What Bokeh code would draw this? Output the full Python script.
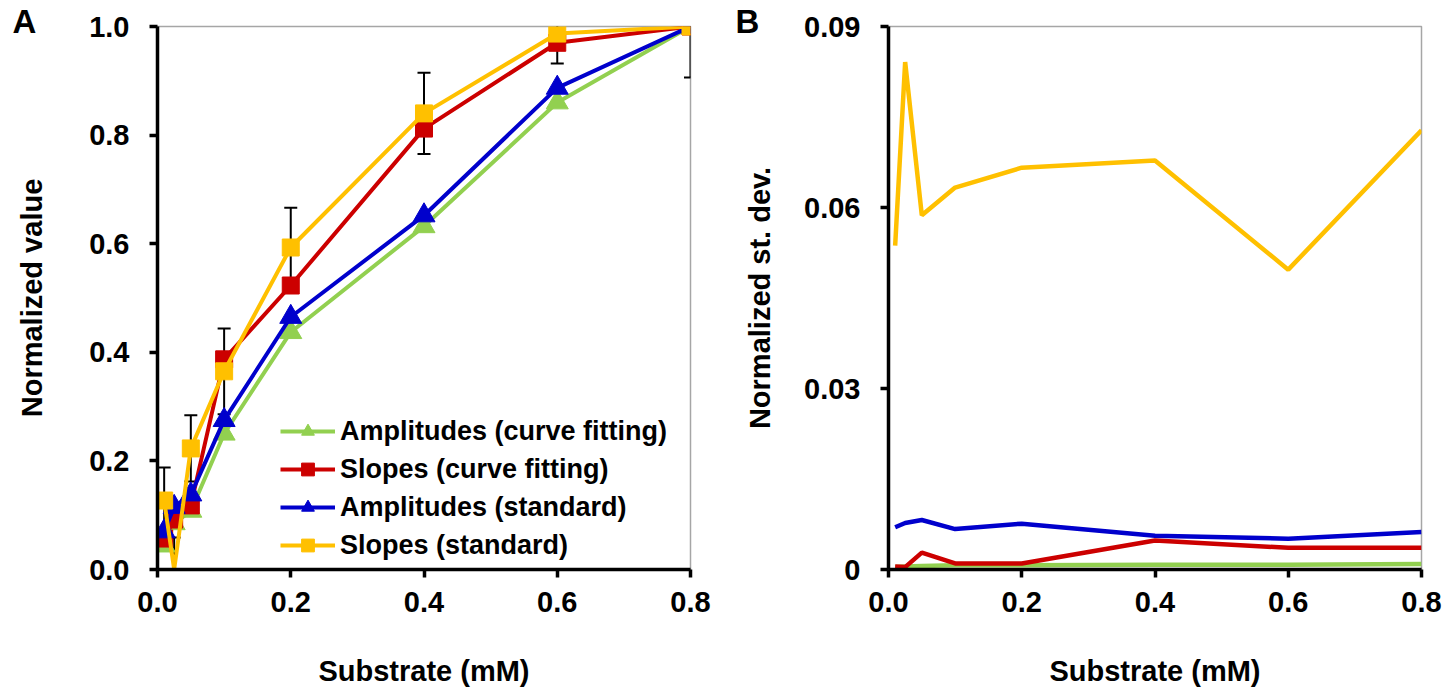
import numpy as np
from bokeh.plotting import figure
from bokeh.layouts import row
from bokeh.models import (Range1d, FixedTicker, NumeralTickFormatter, Legend,
                          LegendItem, ColumnDataSource, Title)
from bokeh.embed import file_html
from bokeh.resources import INLINE

# ---------------- data ----------------
substrate = [0.01, 0.025, 0.05, 0.1, 0.2, 0.4, 0.6, 0.8]

# Panel A: normalized values
amp_curve = [0.044, 0.085, 0.108, 0.25, 0.437, 0.632, 0.86, 1.0]
slope_curve = [0.057, 0.092, 0.118, 0.387, 0.523, 0.812, 0.97, 1.0]
amp_std = [0.070, 0.115, 0.138, 0.275, 0.465, 0.652, 0.887, 1.0]
slope_std = [0.127, 0.0, 0.223, 0.365, 0.593, 0.84, 0.987, 1.0]
slope_std_err = [0.061, 0.059, 0.061, 0.079, 0.073, 0.075, 0.055, 0.094]

# Panel B: normalized standard deviations
sd_amp_curve = [0.0004, 0.0005, 0.0006, 0.0007, 0.0007, 0.0008, 0.0008, 0.0009]
sd_slope_curve = [0.0005, 0.0004, 0.0028, 0.0010, 0.0010, 0.0048, 0.0036, 0.0036]
sd_amp_std = [0.0070, 0.0077, 0.0082, 0.0067, 0.0076, 0.0056, 0.0051, 0.0062]
sd_slope_std = [0.0537, 0.0841, 0.0587, 0.0633, 0.0666, 0.0678, 0.0497, 0.0728]

labels = ["Amplitudes (curve fitting)", "Slopes (curve fitting)",
          "Amplitudes (standard)", "Slopes (standard)"]
colors = ["#92D050", "#CC0000", "#0000CC", "#FFC000"]
markers = ["triangle", "square", "triangle", "square"]

FONT = "Liberation Sans"
TICK_FS = "29px"
LABEL_FS = "29px"


def style(p, ylabel, ystand):
    p.xgrid.visible = False
    p.ygrid.visible = False
    p.outline_line_color = "#A6A6A6"
    p.outline_line_width = 1.5
    p.background_fill_color = "white"
    p.border_fill_color = "white"
    for ax in (p.xaxis[0], p.yaxis[0]):
        ax.axis_line_color = "black"
        ax.axis_line_width = 3.5
        ax.major_tick_line_color = "black"
        ax.major_tick_line_width = 3.5
        ax.major_tick_out = 8
        ax.major_tick_in = 0
        ax.minor_tick_line_color = None
        ax.major_label_text_font = FONT
        ax.major_label_text_font_style = "bold"
        ax.major_label_text_font_size = TICK_FS
        ax.major_label_text_color = "black"
        ax.axis_label_text_font = FONT
        ax.axis_label_text_font_style = "bold"
        ax.axis_label_text_font_size = LABEL_FS
        ax.axis_label_text_color = "black"
    p.xaxis.axis_label = "Substrate (mM)"
    p.xaxis.major_label_standoff = 14
    p.xaxis.axis_label_standoff = 40
    p.yaxis.axis_label = ylabel
    p.yaxis.major_label_standoff = 20
    p.yaxis.axis_label_standoff = ystand


def panel_letter(p, letter, offset):
    # tiny spacer title (outermost, at the top edge) pushes the letter down
    p.title = Title(text=" ", text_font_size="1px", standoff=11,
                    text_color="white")
    t = Title(text=letter, align="left", offset=offset, text_font=FONT,
              text_font_style="bold", text_font_size="33px", text_color="black")
    try:
        t.standoff = -27
    except Exception:
        t.standoff = 0
    p.add_layout(t, "above")


# ---------------- Panel A ----------------
pA = figure(frame_width=533, frame_height=543, x_range=Range1d(0, 0.8),
            y_range=Range1d(0, 1.0), output_backend="svg", toolbar_location=None,
            min_border_left=157, min_border_top=26, min_border_right=30,
            min_border_bottom=100)
style(pA, "Normalized value", 38)
pA.xaxis.ticker = FixedTicker(ticks=[0, 0.2, 0.4, 0.6, 0.8])
pA.xaxis.formatter = NumeralTickFormatter(format="0.0")
pA.yaxis.ticker = FixedTicker(ticks=[0, 0.2, 0.4, 0.6, 0.8, 1.0])
pA.yaxis.formatter = NumeralTickFormatter(format="0.0")

# error bars (slopes, standard)
ys = np.array(slope_std)
es = np.array(slope_std_err)
err_src = ColumnDataSource(dict(x=substrate, lo=ys - es, hi=ys + es))
pA.segment(x0="x", y0="lo", x1="x", y1="hi", source=err_src,
           line_color="black", line_width=2)
pA.scatter(x="x", y="hi", source=err_src, marker="dash", size=13,
           line_color="black", line_width=2)
pA.scatter(x="x", y="lo", source=err_src, marker="dash", size=13,
           line_color="black", line_width=2)

items = []
for vals, lab, col, mk in zip([amp_curve, slope_curve, amp_std, slope_std],
                              labels, colors, markers):
    v = np.array(vals)
    x = np.array(substrate)
    ln = pA.line(x, v, line_color=col, line_width=4)
    mask = v > 0
    sz = 22 if mk == "triangle" else 17
    sc = pA.scatter(x[mask], v[mask], marker=mk, size=sz, fill_color=col,
                    line_color=col, line_width=1)
    items.append(LegendItem(label=lab, renderers=[ln, sc]))

legend = Legend(items=items, location=(119, 4), border_line_alpha=0,
                background_fill_alpha=0, label_text_font=FONT,
                label_text_font_style="bold", label_text_font_size="27px",
                label_text_color="black", glyph_width=55, glyph_height=32,
                spacing=6, padding=4, margin=0, label_standoff=5)
pA.add_layout(legend)
panel_letter(pA, "A", -145)

# ---------------- Panel B ----------------
pB = figure(frame_width=533, frame_height=543, x_range=Range1d(0, 0.8),
            y_range=Range1d(0, 0.09), output_backend="svg", toolbar_location=None,
            min_border_left=168, min_border_top=26, min_border_right=22,
            min_border_bottom=100)
style(pB, "Normalized st. dev.", 25)
pB.xaxis.ticker = FixedTicker(ticks=[0, 0.2, 0.4, 0.6, 0.8])
pB.xaxis.formatter = NumeralTickFormatter(format="0.0")
pB.yaxis.ticker = FixedTicker(ticks=[0, 0.03, 0.06, 0.09])
pB.yaxis.formatter = NumeralTickFormatter(format="0.00")
pB.yaxis.major_label_overrides = {0: "0"}

for vals, col in zip([sd_amp_curve, sd_slope_curve, sd_amp_std, sd_slope_std], colors):
    pB.line(substrate, vals, line_color=col, line_width=4.5)

panel_letter(pB, "B", -153)

layout = row(pA, pB)
open("out.html", "w").write(file_html(layout, INLINE))
